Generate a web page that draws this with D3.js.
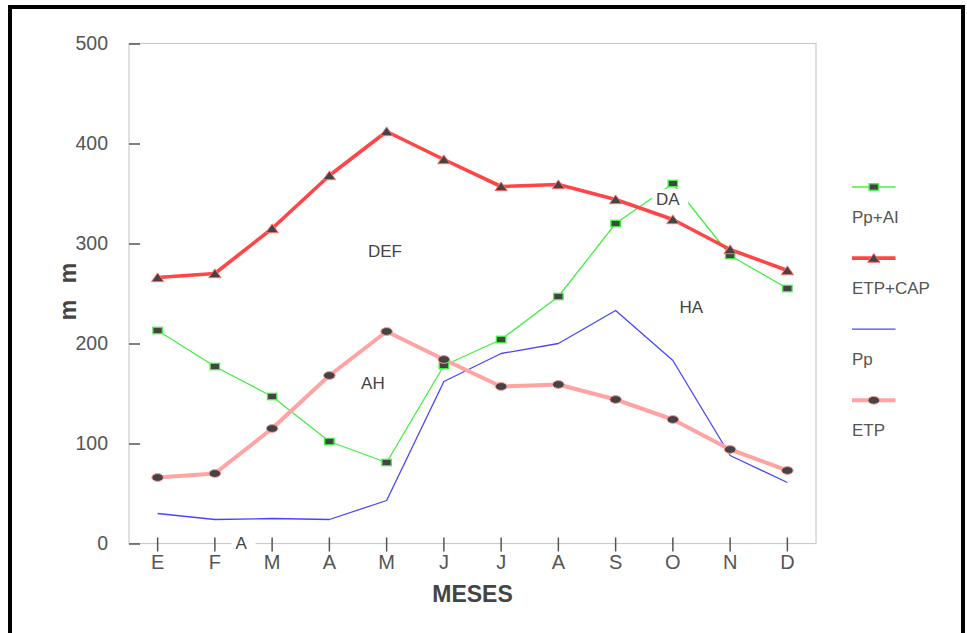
<!DOCTYPE html>
<html>
<head>
<meta charset="utf-8">
<script src="https://cdn.jsdelivr.net/npm/d3@7"></script>
<style>
  html, body { margin: 0; padding: 0; background: #fff; }
  svg { display: block; font-family: "Liberation Sans", Arial, Helvetica, sans-serif; }
</style>
</head>
<body>
<svg id="chart" width="967" height="633"></svg>
<script>
// Monthly water balance (mm)
const months = ["E", "F", "M", "A", "M", "J", "J", "A", "S", "O", "N", "D"];
const ppAI   = [213, 177, 147, 102, 81, 178, 204, 247, 320, 360, 288, 255];
const etpCap = [266, 270, 315, 368, 412, 384, 357, 359, 344, 324, 294, 273];
const pp     = [30, 24, 25, 24, 43, 162, 190, 200, 233, 183, 88, 61];
const etp    = [66, 70, 115, 168, 212, 184, 157, 159, 144, 124, 94, 73];
const yTicks = [0, 100, 200, 300, 400, 500];

// Zone labels placed in data space (month index, mm)
const zoneNames = ["DEF", "AH", "DA", "HA", "A"];
const zoneMonth = [3.97, 3.76, 8.91, 9.32, 1.46];
const zoneValue = [292.5, 160.5, 344.5, 237, 1];
const zoneBoxed = [false, false, true, false, true];

const series = [
  { name: "Pp+AI",   values: ppAI,   color: "#44ee44", width: 1.3, marker: "square",   mstroke: "#44ee44" },
  { name: "ETP+CAP", values: etpCap, color: "#ff4545", width: 3.6, marker: "triangle", mstroke: "#ff7070" },
  { name: "Pp",      values: pp,     color: "#4646ff", width: 1.3, marker: null },
  { name: "ETP",     values: etp,    color: "#ffa3a3", width: 4,   marker: "circle",   mstroke: "#ff9a9a" }
];

const svg = d3.select("#chart");
const plot = { left: 129, right: 816, top: 43.5, bottom: 543.5 };

// outer black frame
svg.append("rect")
  .attr("x", 10).attr("y", 7)
  .attr("width", 953).attr("height", 700)
  .attr("fill", "none").attr("stroke", "#000").attr("stroke-width", 4);

const x = d3.scaleBand().domain(d3.range(months.length)).range([plot.left, plot.right]);
const xc = i => x(Math.floor(i)) + x.bandwidth() / 2 + (i - Math.floor(i)) * x.bandwidth();
const y = d3.scaleLinear().domain([0, 500]).range([plot.bottom, plot.top]);

// plot frame
svg.append("rect")
  .attr("x", plot.left).attr("y", plot.top)
  .attr("width", plot.right - plot.left).attr("height", plot.bottom - plot.top)
  .attr("fill", "none").attr("stroke", "#cccccc").attr("stroke-width", 1.2);

// y axis
const gy = svg.append("g")
  .attr("transform", `translate(${plot.left},0)`)
  .call(d3.axisLeft(y).tickValues(yTicks).tickSize(11).tickPadding(10).tickFormat(d3.format("d")));
gy.select(".domain").remove();
gy.selectAll(".tick line").attr("x2", 11).attr("stroke", "#555").attr("stroke-width", 1.5);
gy.selectAll(".tick text").attr("fill", "#555").attr("font-size", 19.5)
  .attr("font-family", "Liberation Sans, Arial, sans-serif");

// x axis
const gx = svg.append("g")
  .attr("transform", `translate(0,${plot.bottom})`)
  .call(d3.axisBottom(x).tickSize(8).tickPadding(3.5).tickFormat(i => months[i]));
gx.select(".domain").remove();
gx.selectAll(".tick line").attr("y1", -6).attr("stroke", "#555").attr("stroke-width", 1.5);
gx.selectAll(".tick text").attr("fill", "#555").attr("font-size", 20)
  .attr("font-family", "Liberation Sans, Arial, sans-serif");

// axis titles
svg.append("text")
  .attr("x", (plot.left + plot.right) / 2).attr("y", 601.5)
  .attr("text-anchor", "middle").attr("font-weight", "bold")
  .attr("font-size", 23).attr("fill", "#444")
  .text("MESES");

svg.append("text")
  .attr("transform", "translate(76,289) rotate(-90)")
  .attr("text-anchor", "middle").attr("font-weight", "bold")
  .attr("font-size", 23).attr("fill", "#444")
  .attr("letter-spacing", 5)
  .text("m m");

// lines
const line = d3.line().x((d, i) => xc(i)).y(d => y(d));
svg.append("g").selectAll("path")
  .data(series).join("path")
  .attr("d", s => line(s.values))
  .attr("fill", "none")
  .attr("stroke", s => s.color)
  .attr("stroke-width", s => s.width)
  .attr("stroke-linejoin", "round");

// zone labels
const zg = svg.append("g");
zoneNames.forEach((t, k) => {
  const g = zg.append("g");
  const txt = g.append("text")
    .attr("x", xc(zoneMonth[k])).attr("y", y(zoneValue[k]))
    .attr("dy", "0.36em").attr("text-anchor", "middle")
    .attr("font-size", 17).attr("fill", "#444")
    .text(t);
  if (zoneBoxed[k]) {
    const b = txt.node().getBBox();
    g.insert("rect", "text")
      .attr("x", b.x - 4).attr("y", b.y - 1)
      .attr("width", b.width + 12).attr("height", b.height + 1)
      .attr("fill", "#fff");
  }
});

// marker shapes
function drawMarker(sel, s) {
  if (s.marker === "square") {
    sel.append("rect").attr("x", -4.7).attr("y", -3.2).attr("width", 9.4).attr("height", 6.4)
      .attr("fill", "#444").attr("stroke", s.mstroke).attr("stroke-width", 1.3);
  } else if (s.marker === "triangle") {
    sel.append("path").attr("d", "M0,-4.6L6.2,4.2L-6.2,4.2Z")
      .attr("fill", "#444").attr("stroke", s.mstroke).attr("stroke-width", 1);
  } else if (s.marker === "circle") {
    sel.append("ellipse").attr("rx", 5.8).attr("ry", 3.9)
      .attr("fill", "#444").attr("stroke", s.mstroke).attr("stroke-width", 1);
  }
}

series.filter(s => s.marker).forEach(s => {
  const mg = svg.append("g");
  s.values.forEach((v, i) => {
    const m = mg.append("g").attr("transform", `translate(${xc(i)},${y(v)})`);
    drawMarker(m, s);
  });
});

// legend
const lg = svg.append("g").attr("transform", "translate(852,187)");
series.forEach((s, k) => {
  const g = lg.append("g").attr("transform", `translate(0,${k * 71.1})`);
  g.append("line").attr("x1", 0).attr("x2", 43.5).attr("y1", 0).attr("y2", 0)
    .attr("stroke", s.color).attr("stroke-width", s.width);
  if (s.marker) {
    const m = g.append("g").attr("transform", "translate(21.8,0)");
    drawMarker(m, s);
  }
  g.append("text").attr("x", 0).attr("y", 35.5)
    .attr("font-size", 17).attr("fill", "#555").text(s.name);
});
</script>
</body>
</html>
